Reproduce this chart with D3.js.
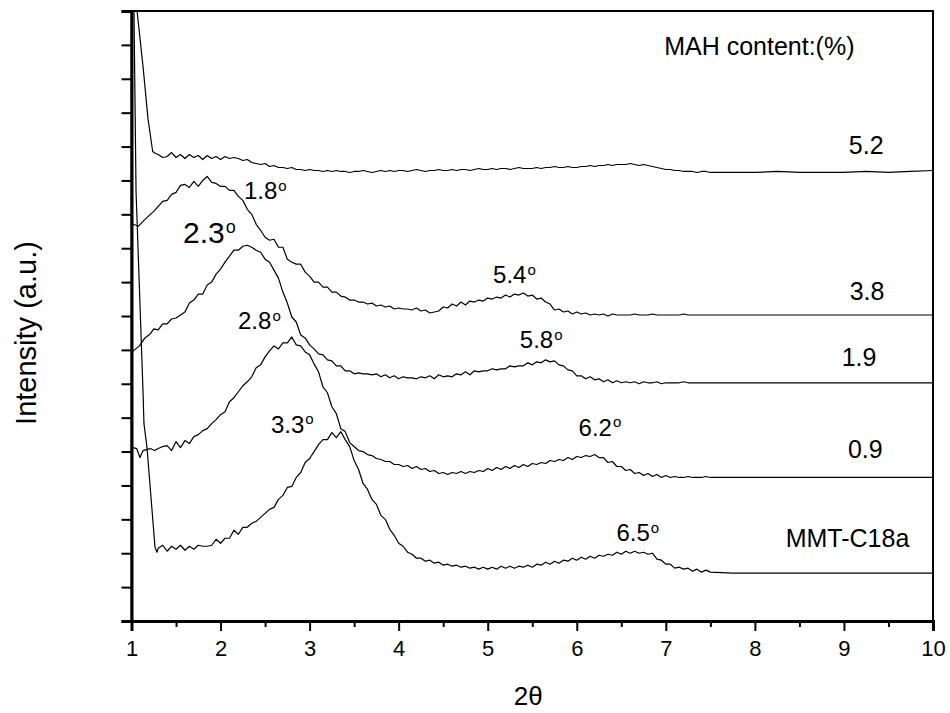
<!DOCTYPE html>
<html>
<head>
<meta charset="utf-8">
<script src="https://cdnjs.cloudflare.com/ajax/libs/d3/7.8.5/d3.min.js"></script>
<style>
  body { margin: 0; background: #fff; }
  text { font-family: "Liberation Sans", Arial, sans-serif; fill: #000; }
  .axis path, .axis line { stroke: #000; }
</style>
</head>
<body>
<div id="xrd"></div>
<script>
// 2theta sampling positions (deg)
var grid = [1.30,1.35,1.40,1.45,1.50,1.55,1.60,1.65,1.70,1.75,1.80,1.85,1.90,1.95,2.00,
  2.05,2.10,2.15,2.20,2.25,2.30,2.35,2.40,2.45,2.50,
  2.55,2.60,2.65,2.70,2.75,2.80,2.85,2.90,2.95,3.00,
  3.05,3.10,3.15,3.20,3.25,3.30,3.35,3.40,3.45,3.50,
  3.55,3.60,3.65,3.70,3.75,3.80,3.85,3.90,3.95,4.00,
  4.05,4.10,4.15,4.20,4.25,4.30,4.35,4.40,4.45,4.50,
  4.55,4.60,4.65,4.70,4.75,4.80,4.85,4.90,4.95,5.00,
  5.05,5.10,5.15,5.20,5.25,5.30,5.35,5.40,5.45,5.50,
  5.55,5.60,5.65,5.70,5.75,5.80,5.85,5.90,5.95,6.00,
  6.05,6.10,6.15,6.20,6.25,6.30,6.35,6.40,6.45,6.50,
  6.55,6.60,6.65,6.70,6.75,6.80,6.85,6.90,6.95,7.00,
  7.05,7.10,7.15,7.20,7.25,7.30,7.35,7.40,7.45,7.50,
  7.75,8.00,8.25,8.50,8.75,9.00,9.25,9.50,9.75,10.00];

// steep start of each pattern near 2theta = 1, [2theta, intensity]
var head52 = [[1.03, 700], [1.065, 610], [1.132, 554], [1.185, 504], [1.238, 471], [1.27, 469]];
var head38 = [[1.00, 398], [1.02, 398], [1.076, 396], [1.14, 402], [1.20, 407], [1.25, 411]];
var head19 = [[1.00, 271], [1.02, 271], [1.09, 276], [1.15, 284], [1.21, 288], [1.25, 293]];
var head09 = [[1.00, 175], [1.02, 174], [1.058, 173], [1.095, 164], [1.13, 171], [1.21, 173], [1.26, 171]];
var headMMT = [[1.01, 750], [1.028, 610], [1.051, 431], [1.129, 231], [1.14, 198], [1.174, 174], [1.264, 74], [1.286, 69]];

// intensities (a.u.) on grid, curves already offset as in the figure
var mah52 = [468,465,466,470,465,468,464,468,465,467,463,467,464,466,463,
  466,464,465,464,462,463,460,459,458,459,
  456,457,455,455,454,455,453,453,452,453,
  452,452,451,452,451,452,451,451,450,451,
  451,452,451,450,451,452,451,452,451,452,
  452,451,452,453,452,451,452,452,453,452,
  452,453,452,453,453,452,453,454,453,453,
  454,453,454,454,453,454,455,454,454,454,
  455,454,455,455,456,455,455,456,455,455,
  456,456,457,456,457,457,458,457,458,458,
  458,459,458,457,458,457,456,455,454,453,
  453,452,452,451,451,451,450,451,451,450,
  450,450,451,450,450,450,451,450,451,452];

var mah38 = [416,421,422,428,430,437,438,435,441,436,442,446,440,439,436,
  436,432,432,426,422,413,408,398,392,385,
  382,383,375,375,363,360,358,358,350,346,
  340,340,335,335,330,330,326,325,322,322,
  320,320,318,319,316,317,315,316,313,314,
  313,313,312,314,311,312,309,310,311,315,
  314,318,316,320,317,321,320,322,321,324,
  323,325,324,327,325,328,327,329,326,327,
  323,324,320,318,312,313,310,311,308,310,
  308,309,307,308,307,308,306,308,307,307,
  307,307,308,307,307,307,308,307,307,307,
  307,307,307,308,307,307,307,307,307,307,
  307,307,307,307,307,307,307,307,307,307];

var mah19 = [292,298,298,303,304,307,310,319,322,328,328,337,340,348,353,
  360,366,372,372,376,377,375,372,370,363,
  360,352,344,330,319,305,300,287,284,277,
  273,268,267,262,261,256,256,251,251,248,
  249,248,248,247,248,245,247,244,246,243,
  245,244,244,243,245,244,246,243,247,245,
  246,245,248,247,250,247,251,250,251,251,
  253,252,253,253,256,255,256,256,259,257,
  260,259,262,260,261,257,256,252,251,246,
  246,243,245,242,243,240,242,239,241,239,
  240,239,240,238,240,239,239,240,238,239,
  239,239,239,240,239,239,239,239,239,239,
  239,239,239,239,239,239,239,239,239,239];

var mah09 = [173,175,176,171,180,174,181,178,185,187,191,193,198,202,207,
  210,220,224,230,236,240,245,254,257,265,
  271,276,273,279,279,285,277,276,270,267,
  258,250,235,229,215,208,193,190,179,175,
  171,170,167,166,163,162,160,160,157,157,
  155,156,153,155,152,153,150,151,148,149,
  147,149,148,150,148,150,149,151,150,153,
  151,154,152,155,153,156,154,157,155,158,
  157,159,158,161,160,162,161,164,162,165,
  164,166,165,167,164,164,159,160,155,155,
  151,152,148,149,146,148,145,147,144,146,
  144,145,144,144,145,144,144,144,145,144,
  144,144,144,144,144,144,144,144,144,144];

var mmt = [73,76,70,75,72,76,71,75,72,76,75,75,76,82,78,
  83,83,91,87,94,94,98,100,104,108,
  112,114,122,126,134,135,144,149,159,163,
  170,177,182,182,189,184,190,182,175,161,
  152,138,132,122,117,106,102,92,86,78,
  75,69,67,63,63,60,61,58,59,56,
  57,55,56,54,55,53,54,52,54,52,
  54,52,55,53,55,53,55,54,56,54,
  57,56,59,57,60,58,61,60,63,61,
  64,62,65,63,66,65,67,66,69,67,
  70,68,70,68,69,67,68,62,61,57,
  57,53,54,52,53,50,52,49,51,49,
  48,48,48,48,48,48,48,48,48,48];

var series = [
  {name: "5.2", head: head52, values: mah52},
  {name: "3.8", head: head38, values: mah38},
  {name: "1.9", head: head19, values: mah19},
  {name: "0.9", head: head09, values: mah09},
  {name: "MMT-C18a", head: headMMT, values: mmt}
];

var xMajor = [1, 2, 3, 4, 5, 6, 7, 8, 9, 10];
var xMinor = [1.5, 2.5, 3.5, 4.5, 5.5, 6.5, 7.5, 8.5, 9.5];

// curve labels: [text, 2theta, intensity]
var curveLabels = [
  ["MAH content:(%)", 8.05, 568],
  ["5.2", 9.25, 469],
  ["3.8", 9.26, 322],
  ["1.9", 9.17, 256],
  ["0.9", 9.24, 164],
  ["MMT-C18a", 9.04, 74]
];
// peak labels: [value, 2theta, intensity, big]
var peakLabels = [
  ["1.8", 2.263, 423, false],
  ["2.3", 1.578, 379, true],
  ["5.4", 5.06, 339, false],
  ["2.8", 2.196, 293, false],
  ["5.8", 5.36, 274, false],
  ["3.3", 2.566, 189, false],
  ["6.2", 6.02, 186, false],
  ["6.5", 6.446, 80, false]
];

var margin = {top: 11, right: 17, bottom: 92, left: 131.5};
var width = 950 - margin.left - margin.right,
    height = 713 - margin.top - margin.bottom;

var svg = d3.select("#xrd").append("svg")
    .attr("width", 950)
    .attr("height", 713)
  .append("g")
    .attr("transform", "translate(" + margin.left + "," + margin.top + ")");

var x = d3.scaleLinear().domain([1, 10]).range([0, width]);
var y = d3.scaleLinear().domain([0, 612]).range([height, 0]);

svg.append("clipPath").attr("id", "plot-clip")
  .append("rect").attr("width", width).attr("height", height);

// curves
var line = d3.line()
    .x(function(d) { return x(d[0]); })
    .y(function(d) { return y(d[1]); });

svg.append("g").attr("clip-path", "url(#plot-clip)")
  .selectAll("path.xrd")
  .data(series)
  .enter().append("path")
    .attr("class", "xrd")
    .attr("fill", "none")
    .attr("stroke", "#000")
    .attr("stroke-width", 1.2)
    .attr("stroke-linejoin", "round")
    .attr("d", function(s) {
      var pts = s.head.concat(grid.map(function(t, i) { return [t, s.values[i]]; }));
      return line(pts);
    });

// frame (top + right)
svg.append("rect")
  .attr("width", width).attr("height", height)
  .attr("fill", "none").attr("stroke", "#000").attr("stroke-width", 2);

// x axis
var xGroup = svg.append("g")
    .attr("class", "axis")
    .attr("transform", "translate(0," + height + ")")
    .call(d3.axisBottom(x).tickValues(xMajor).tickSize(10).tickPadding(9).tickFormat(d3.format("d")));
xGroup.select(".domain").attr("stroke-width", 3);
xGroup.selectAll(".tick line").attr("stroke-width", 2);
xGroup.selectAll("text").style("font-size", "22px");

svg.append("g")
    .attr("class", "axis")
    .attr("transform", "translate(0," + height + ")")
    .call(d3.axisBottom(x).tickValues(xMinor).tickSize(6).tickFormat(""))
  .call(function(g) { g.select(".domain").remove(); })
  .selectAll(".tick line").attr("stroke-width", 2);

// y axis, unlabeled ticks
var yGroup = svg.append("g")
    .attr("class", "axis")
    .call(d3.axisLeft(y).tickValues(d3.range(0, 613, 34)).tickSize(10).tickFormat(""));
yGroup.select(".domain").attr("stroke-width", 3);
yGroup.selectAll(".tick line").attr("stroke-width", 2);

// axis titles
svg.append("text")
  .attr("x", width / 2 - 4).attr("y", height + 84)
  .attr("text-anchor", "middle")
  .style("font-size", "26px")
  .text("2\u03B8");

svg.append("text")
  .attr("transform", "translate(" + (-96) + "," + (322) + ") rotate(-90)")
  .attr("text-anchor", "middle")
  .style("font-size", "29px")
  .text("Intensity (a.u.)");

// labels
svg.selectAll("text.curve")
  .data(curveLabels)
  .enter().append("text")
    .attr("class", "curve")
    .attr("x", function(d) { return x(d[1]); })
    .attr("y", function(d) { return y(d[2]); })
    .attr("text-anchor", "middle")
    .style("font-size", "25px")
    .text(function(d) { return d[0]; });

var peaks = svg.selectAll("text.peak")
  .data(peakLabels)
  .enter().append("text")
    .attr("class", "peak")
    .attr("x", function(d) { return x(d[1]); })
    .attr("y", function(d) { return y(d[2]); })
    .style("font-size", function(d) { return d[3] ? "30px" : "24px"; });
peaks.append("tspan").text(function(d) { return d[0]; });
peaks.append("tspan")
  .attr("dy", "-0.55em")
  .attr("dx", "1")
  .style("font-size", function(d) { return d[3] ? "18px" : "15px"; })
  .text("o");
</script>
</body>
</html>
